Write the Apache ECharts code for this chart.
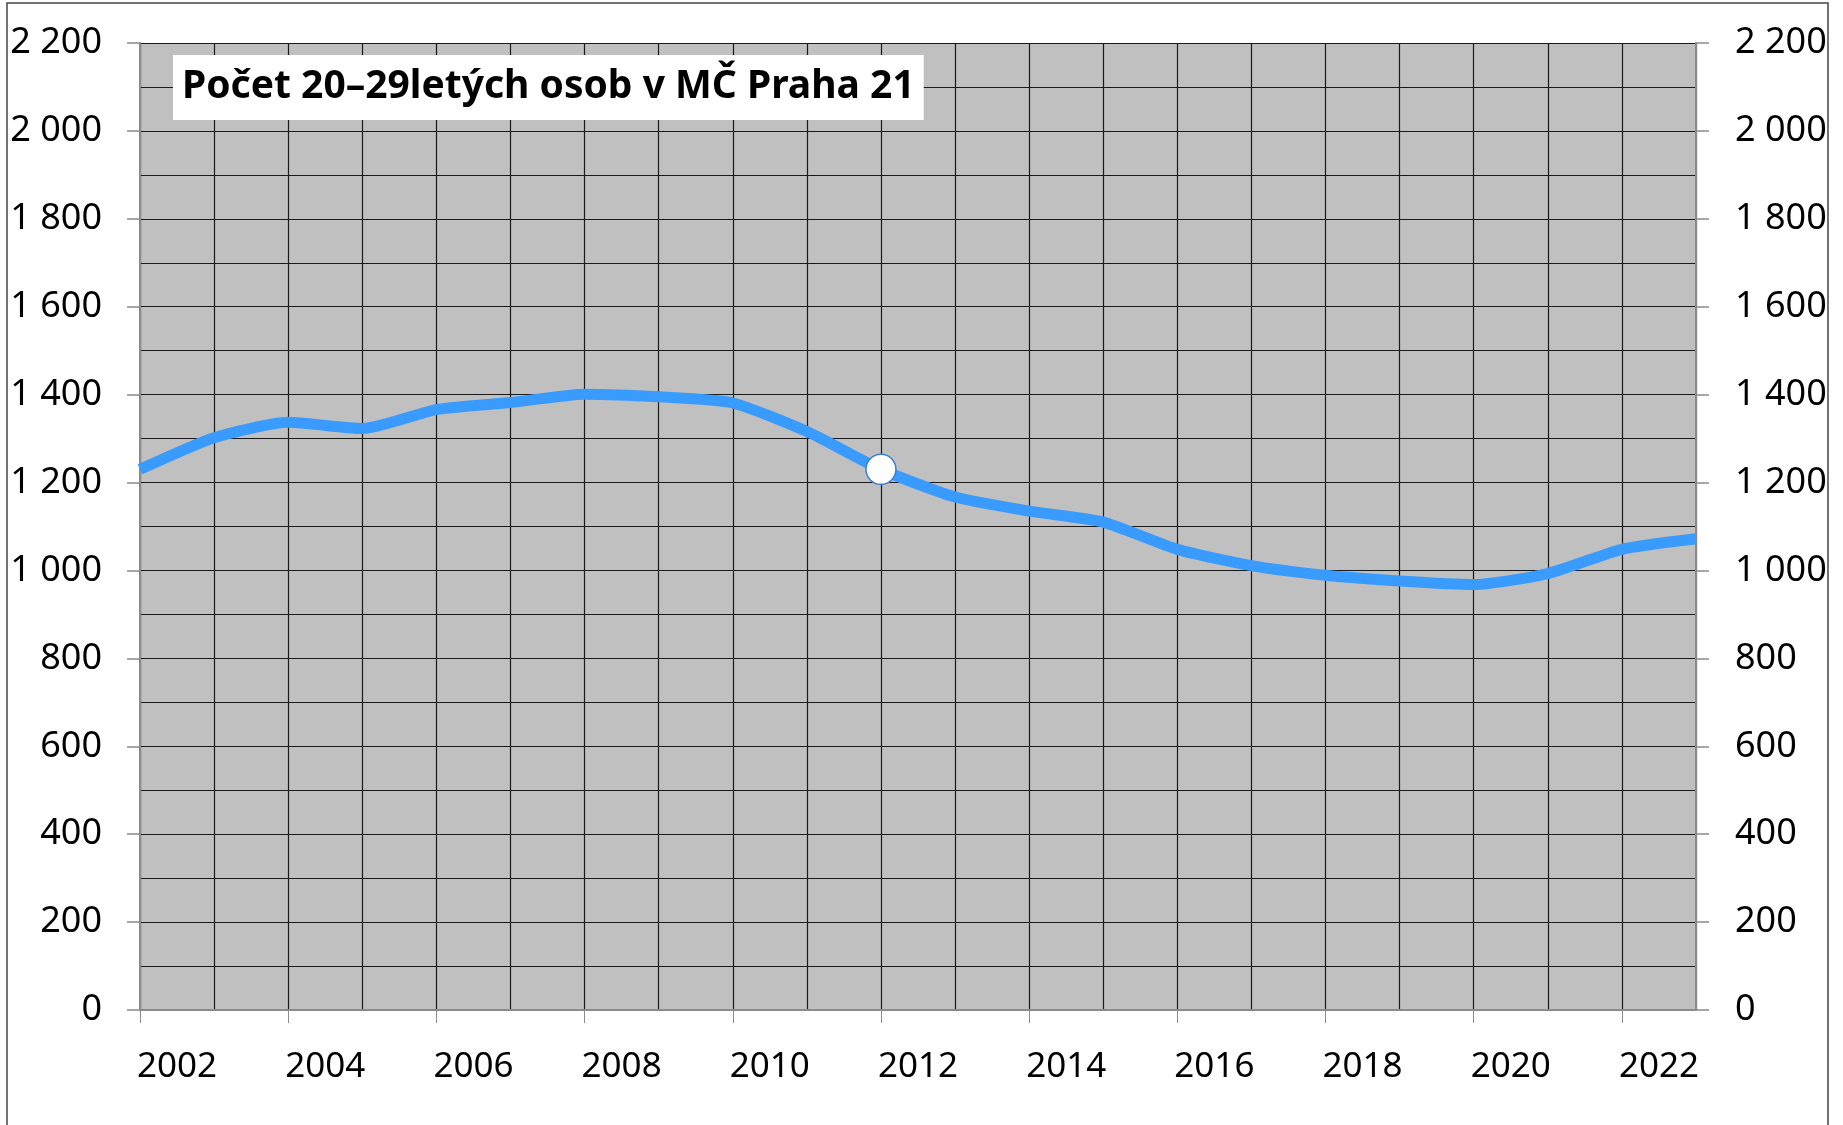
<!DOCTYPE html>
<html>
<head>
<meta charset="utf-8">
<script src="https://cdn.jsdelivr.net/npm/echarts@6/dist/echarts.min.js"></script>
<style>
html,body{margin:0;padding:0;background:#fff;}
#chart{width:1843px;height:1125px;}
</style>
</head>
<body>
<div id="chart"></div>
<script>
const titleText = 'Počet 20–29letých osob v MČ Praha 21';
const years = ['2002','2003','2004','2005','2006','2007','2008','2009','2010','2011','2012','2013','2014','2015','2016','2017','2018','2019','2020','2021','2022','2023'];
const values = [1230, 1302, 1337, 1323, 1366, 1382, 1401, 1395, 1381, 1316, 1230, 1167, 1135, 1110, 1048, 1011, 989, 976, 968, 993, 1048, 1072];
const markedYear = '2012';
const yMin = 0, yMax = 2200, yStep = 200;

const fmt = v => {
  if (v >= 1000) { const r = String(v % 1000).padStart(3, '0'); return Math.floor(v / 1000) + ' ' + r; }
  return String(v);
};

const seriesData = values.map((v, i) => years[i] === markedYear
  ? { value: v, symbol: 'circle', symbolSize: 30,
      itemStyle: { color: '#ffffff', borderColor: '#3b7fd0', borderWidth: 1.5 } }
  : v);

const font = '"Noto Sans", "Open Sans", sans-serif';
const chart = echarts.init(document.getElementById('chart'), null, { renderer: 'canvas' });
chart.setOption({
  animation: false,
  backgroundColor: '#ffffff',
  title: {
    text: titleText,
    left: 173, top: 55,
    backgroundColor: '#ffffff',
    padding: [10, 9, 11, 9],
    textStyle: { fontFamily: font, fontWeight: 'bold', fontSize: 39, color: '#000', lineHeight: 44 }
  },
  graphic: [{
    type: 'rect', silent: true, z: -10,
    shape: { x: 7, y: 3, width: 1821, height: 1140 },
    style: { fill: null, stroke: '#444', lineWidth: 1.5 }
  }],
  grid: { left: 140, right: 147, top: 43, bottom: 115, show: true, backgroundColor: '#c0c0c0', borderWidth: 0 },
  xAxis: {
    type: 'category', data: years, boundaryGap: false,
    axisLine: { show: true, lineStyle: { color: '#8a8a8a', width: 2 } },
    axisTick: { show: true, interval: 1, length: 13, lineStyle: { color: '#8a8a8a', width: 1 } },
    axisLabel: { interval: 1, margin: 40, align: 'left', padding: [0, 0, 0, -3], fontFamily: font, fontSize: 35, color: '#000' },
    splitLine: { show: true, interval: 0, lineStyle: { color: '#1a1a1a', width: 1.2 } }
  },
  yAxis: [{
    type: 'value', min: yMin, max: yMax, interval: yStep, position: 'left',
    axisLine: { show: true, lineStyle: { color: '#8a8a8a', width: 2 } },
    axisTick: { show: true, length: 13, lineStyle: { color: '#8a8a8a', width: 1.5 } },
    axisLabel: { margin: 38, fontFamily: font, fontSize: 36, color: '#000', formatter: fmt },
    splitLine: { show: true, lineStyle: { color: '#1a1a1a', width: 1.2 } },
    minorTick: { show: false, splitNumber: 2 },
    minorSplitLine: { show: true, lineStyle: { color: '#1a1a1a', width: 1.2 } }
  }, {
    type: 'value', min: yMin, max: yMax, interval: yStep, position: 'right',
    axisLine: { show: true, lineStyle: { color: '#8a8a8a', width: 2 } },
    axisTick: { show: true, length: 13, lineStyle: { color: '#8a8a8a', width: 1.5 } },
    axisLabel: { margin: 39, fontFamily: font, fontSize: 36, color: '#000', formatter: fmt },
    splitLine: { show: false }
  }],
  series: [{
    type: 'line', data: seriesData, yAxisIndex: 0,
    symbol: 'none', showSymbol: true, smooth: 0.2,
    lineStyle: { color: '#3a9bff', width: 11 },
    itemStyle: { color: '#3a9bff' },
    z: 5
  }]
});
</script>
</body>
</html>
